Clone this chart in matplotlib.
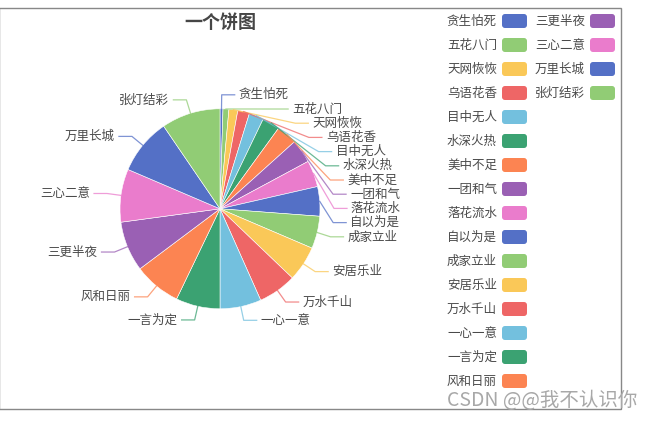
import numpy as np
import matplotlib
matplotlib.use("Agg")
import matplotlib.pyplot as plt
from matplotlib.patches import FancyBboxPatch, Rectangle

plt.rcParams["font.family"] = ["Noto Sans CJK SC", "DejaVu Sans"]

names = ["贪生怕死", "五花八门", "天网恢恢", "乌语花香", "目中无人", "水深火热", "美中不足",
         "一团和气", "落花流水", "自以为是", "成家立业", "安居乐业", "万水千山", "一心一意",
         "一言为定", "风和日丽", "三更半夜", "三心二意", "万里长城", "张灯结彩"]
values = [1, 2, 3, 4, 5, 6, 7, 8, 9, 10, 11, 12, 13, 14, 15, 16, 17, 18, 19, 20]
palette = ["#5470c6", "#91cc75", "#fac858", "#ee6666", "#73c0de",
           "#3ba272", "#fc8452", "#9a60b4", "#ea7ccc"]
colors = [palette[i % len(palette)] for i in range(len(values))]

W, H = 653, 421
fig = plt.figure(figsize=(W / 100, H / 100), dpi=100)
ax = fig.add_axes([0, 0, 1, 1])

def Y(py):
    return H - py

cx, cy, r = 220, 208.8, 100
wedges, _ = ax.pie(values, colors=colors, startangle=90, counterclock=False,
                   center=(cx, Y(cy)), radius=r, frame=True,
                   wedgeprops=dict(edgecolor="white", linewidth=0.4))
ax.set_xlim(0, W)
ax.set_ylim(0, H)
ax.set_aspect("auto")
ax.axis("off")

# label layout (pixel coords, y down)
R = 114
len2, gap, lh = 13, 4, 14.2
labels = []
for i, w in enumerate(wedges):
    a = np.deg2rad((w.theta1 + w.theta2) / 2)
    ex, ey = cx + r * np.cos(a), cy - r * np.sin(a)
    ny = cy - R * np.sin(a)
    side = 1 if np.cos(a) >= 0 else -1
    labels.append([i, ex, ey, ny, side])

for side in (1, -1):
    group = sorted([l for l in labels if l[4] == side], key=lambda l: l[3])
    prev = -1e9
    for l in group:
        l[3] = max(l[3], prev + lh)
        prev = l[3]

for i, ex, ey, y, side in labels:
    dy = y - cy
    bx = cx + side * np.sqrt(max(R * R - dy * dy, 0))
    lx = bx + side * len2
    ax.plot([ex, bx, lx], [Y(ey), Y(y), Y(y)], color=colors[i], lw=0.9, alpha=0.75)
    ax.text(lx + side * gap, Y(y), names[i], fontsize=9, color="#4a4a4a",
            ha="left" if side > 0 else "right", va="center")

# title
ax.text(cx, Y(22), "一个饼图", fontsize=13, fontweight="bold", color="#464646",
        ha="center", va="center")

# legend
for i, name in enumerate(names):
    col, row = (0, i) if i < 16 else (1, i - 16)
    x0 = 502 + col * 88
    yc = 21 + 24 * row
    ax.add_patch(FancyBboxPatch((x0 + 2, Y(yc) - 5), 21, 10,
                                boxstyle="round,pad=2,rounding_size=3",
                                facecolor=colors[i], edgecolor="none"))
    ax.text(x0 - 5, Y(yc), name, fontsize=9, color="#4a4a4a", ha="right", va="center")

# frame
ax.add_patch(Rectangle((-1, Y(409)), 621.5, 401, fill=False, edgecolor="#888", lw=1))

ax.text(637, Y(401), "CSDN @@我不认识你", fontsize=14, color="#a8a8a8",
        ha="right", va="center")

fig.savefig("out.png", dpi=100)
